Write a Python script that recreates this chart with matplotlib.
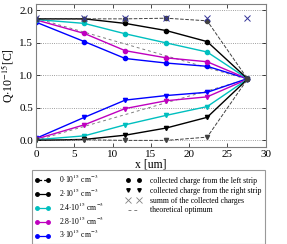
import matplotlib
matplotlib.use("Agg")
import matplotlib.pyplot as plt
from matplotlib.lines import Line2D

plt.rcParams['font.family'] = ['Liberation Serif', 'DejaVu Serif']
plt.rcParams['mathtext.fontset'] = 'stix'

x = [0, 6.33, 11.66, 17.0, 22.35, 27.6]

doping_labels = [r'0$\cdot$10$^{15}$ cm$^{-3}$', r'2$\cdot$10$^{15}$ cm$^{-3}$',
                 r'2.4$\cdot$10$^{15}$ cm$^{-3}$', r'2.8$\cdot$10$^{15}$ cm$^{-3}$',
                 r'3$\cdot$10$^{15}$ cm$^{-3}$']
colors = ['black', 'black', (0, 0.75, 0.75), (0.75, 0, 0.75), 'blue']
styles = ['--', '-', '-', '-', '-']

left_0 = [1.87, 1.87, 1.87, 1.88, 1.84, 0.95]
left_2 = [1.87, 1.87, 1.80, 1.69, 1.52, 0.95]
left_24 = [1.86, 1.80, 1.64, 1.50, 1.36, 0.95]
left_28 = [1.855, 1.645, 1.38, 1.27, 1.21, 0.95]
left_3 = [1.82, 1.52, 1.26, 1.19, 1.14, 0.95]

right_0 = [0.0, 0.01, 0.0, 0.0, 0.05, 0.94]
right_2 = [0.0, 0.015, 0.08, 0.19, 0.355, 0.94]
right_24 = [0.01, 0.07, 0.24, 0.385, 0.52, 0.94]
right_28 = [0.02, 0.24, 0.49, 0.61, 0.67, 0.94]
right_3 = [0.03, 0.355, 0.62, 0.69, 0.74, 0.95]

summ = [1.88, 1.88, 1.88, 1.88, 1.88, 1.88]

opt_x = [0, 27.6]
opt_left = [1.88, 0.94]
opt_right = [0.0, 0.94]

lefts = [left_0, left_2, left_24, left_28, left_3]
rights = [right_0, right_2, right_24, right_28, right_3]

fig = plt.figure(figsize=(2.87, 2.44), dpi=100)
ax = fig.add_axes([0.125, 0.398, 0.801, 0.586])

ax.plot(opt_x, opt_left, color='gray', ls='--', lw=0.7, dashes=(3, 3))
ax.plot(opt_x, opt_right, color='gray', ls='--', lw=0.7, dashes=(3, 3))

for i in range(4, -1, -1):
    kw = dict(color=colors[i], ls=styles[i], lw=1.0 if i else 0.7, markersize=3)
    if i == 0:
        kw['color'] = (0.25, 0.25, 0.25)
    ax.plot(x, lefts[i], marker='o', **kw)
    ax.plot(x, rights[i], marker='v', **kw)

ax.plot(x, summ, ls='none', marker='x', color=(0.2, 0.2, 0.6), markersize=5, mew=0.7)

ax.set_xlim(0, 30)
ax.set_ylim(-0.1, 2.1)
ax.set_xticks([0, 5, 10, 15, 20, 25, 30])
ax.set_yticks([0.0, 0.5, 1.0, 1.5, 2.0])
ax.set_yticklabels(['0.0', '0.5', '1.0', '1.5', '2.0'])
ax.tick_params(direction='in', top=True, right=True, labelsize=8, length=3, width=0.5, pad=2)
ax.yaxis.grid(True, ls=':', color='gray', lw=0.6)
for s in ax.spines.values():
    s.set_color('gray')
    s.set_linewidth(0.8)
ax.set_xlabel('x [um]', fontsize=8.5, labelpad=0)
ax.set_ylabel(r'Q$\cdot$10$^{-15}$[C]', fontsize=8.5, labelpad=2)

handles = []
for i in range(5):
    c = colors[i] if i else 'black'
    handles.append(Line2D([], [], color=c, ls=styles[i], lw=0.9, marker='o', markersize=2.5))
handles.append(Line2D([], [], color='black', ls='none', marker='o', markersize=2.5))
handles.append(Line2D([], [], color='black', ls='none', marker='v', markersize=2.5))
handles.append(Line2D([], [], color='gray', ls='none', marker='x', markersize=4, mew=0.6))
handles.append(Line2D([], [], color='gray', ls='--', lw=0.7, dashes=(3, 3)))
labels = doping_labels + ['collected charge from the left strip',
                          'collected charge from the right strip',
                          'summ of the collected charges', 'theoretical optimum']
leg = fig.legend(handles, labels, loc='upper left', bbox_to_anchor=(32 / 287, 1 - 170 / 244),
                 ncol=2, fontsize=5.6, frameon=True, fancybox=False, numpoints=2,
                 handlelength=2.0, handletextpad=1.1, columnspacing=2.8, labelspacing=0.22,
                 borderpad=0.4, borderaxespad=0)
leg.get_frame().set_edgecolor('gray')
leg.get_frame().set_linewidth(0.8)

fig.savefig('out.png', dpi=100)
